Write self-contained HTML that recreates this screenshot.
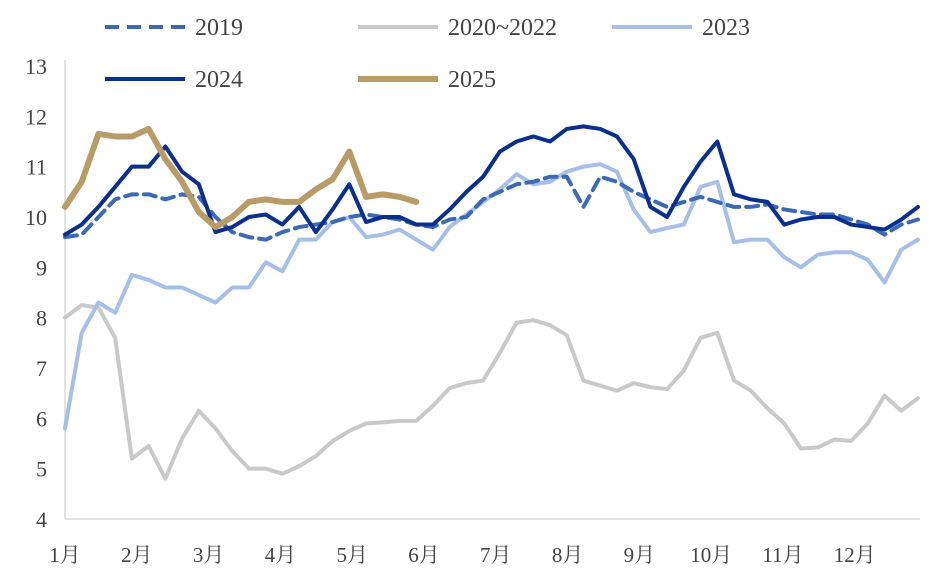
<!DOCTYPE html>
<html><head><meta charset="utf-8"><style>
body{margin:0;background:#fff;}
svg text{font-family:"Liberation Serif","Noto Serif CJK SC",serif;fill:#444;}
</style></head><body>
<svg id="chart" width="939" height="582" xmlns="http://www.w3.org/2000/svg">
<g id="legend"></g>
<g id="axes"></g>
<g id="series"></g>
</svg>
<script>
const months = ["1月","2月","3月","4月","5月","6月","7月","8月","9月","10月","11月","12月"];
const yTicks = [4,5,6,7,8,9,10,11,12,13];
const s2019 = [9.6,9.65,10.0,10.35,10.45,10.45,10.35,10.45,10.4,10.0,9.7,9.6,9.55,9.7,9.8,9.85,9.9,10.0,10.05,10.0,9.95,9.85,9.8,9.95,10.0,10.35,10.5,10.65,10.7,10.8,10.8,10.2,10.8,10.7,10.5,10.35,10.2,10.3,10.4,10.3,10.2,10.2,10.25,10.15,10.1,10.05,10.05,9.95,9.85,9.65,9.85,9.95];
const s2020 = [8.0,8.25,8.2,7.6,5.2,5.45,4.8,5.6,6.15,5.8,5.35,5.0,5.0,4.9,5.05,5.25,5.55,5.75,5.9,5.92,5.95,5.95,6.25,6.6,6.7,6.75,7.3,7.9,7.95,7.85,7.65,6.75,6.65,6.55,6.7,6.62,6.58,6.95,7.6,7.7,6.75,6.55,6.2,5.9,5.4,5.42,5.58,5.55,5.9,6.45,6.15,6.4];
const s2023 = [5.8,7.7,8.3,8.1,8.85,8.75,8.6,8.6,8.45,8.3,8.6,8.6,9.1,8.92,9.55,9.55,9.9,10.0,9.6,9.65,9.75,9.55,9.35,9.8,10.05,10.3,10.55,10.85,10.65,10.7,10.9,11.0,11.05,10.9,10.15,9.7,9.78,9.85,10.6,10.7,9.5,9.55,9.55,9.2,9.0,9.25,9.3,9.3,9.15,8.7,9.35,9.55];
const s2024 = [9.65,9.85,10.2,10.6,11.0,11.0,11.4,10.9,10.65,9.7,9.8,10.0,10.05,9.85,10.2,9.7,10.15,10.65,9.9,10.0,10.0,9.85,9.85,10.15,10.5,10.8,11.3,11.5,11.6,11.5,11.75,11.8,11.75,11.6,11.15,10.2,10.0,10.6,11.1,11.5,10.45,10.35,10.3,9.85,9.95,10.0,10.0,9.85,9.8,9.75,9.95,10.2];
const s2025 = [10.2,10.7,11.65,11.6,11.6,11.75,11.15,10.7,10.1,9.8,10.0,10.3,10.35,10.3,10.3,10.55,10.75,11.3,10.4,10.45,10.4,10.3];

const NS="http://www.w3.org/2000/svg";
const X0=65, X1=918, Y0=519, Y1=66;
const xs = i => X0 + i*(X1-X0)/51;
const ys = v => Y0 - (v-4)*(Y0-Y1)/9;
function mk(tag, attrs, parent){const e=document.createElementNS(NS,tag);for(const k in attrs)e.setAttribute(k,attrs[k]);parent.appendChild(e);return e;}
const axes=document.getElementById('axes');
let ax=mk('line',{x1:X0,y1:Y1-6,x2:X0,y2:Y0,stroke:'#d9d9d9','stroke-width':1.5},axes);


let bx=mk('line',{x1:X0,y1:Y0,x2:X1+2,y2:Y0,stroke:'#d9d9d9','stroke-width':1.5},axes);


yTicks.forEach(v=>{
  const t=mk('text',{x:47,y:ys(v)+8,'text-anchor':'end','font-size':22},axes);
  t.textContent=v;
  
  
});
months.forEach((m,i)=>{
  const t=mk('text',{x:X0+i*71.8,y:562,'text-anchor':'middle','font-size':21},axes);
  t.textContent=m;
  
  
});
const series=document.getElementById('series');
const defs=[
 {d:s2020,c:'#c9c9c9',w:4,dash:null,n:'series-2020-2022'},
 {d:s2023,c:'#a6bfe9',w:4,dash:null,n:'series-2023'},
 {d:s2019,c:'#3b69b5',w:4,dash:'12,7',n:'series-2019'},
 {d:s2024,c:'#0b2f8e',w:4,dash:null,n:'series-2024'},
 {d:s2025,c:'#b99b68',w:6,dash:null,n:'series-2025'}];
defs.forEach(s=>{
  const p=mk('polyline',{points:s.d.map((v,i)=>xs(i)+','+ys(v)).join(' '),fill:'none',stroke:s.c,'stroke-width':s.w,'stroke-linejoin':'round','stroke-linecap':'round'},series);
  if(s.dash)p.setAttribute('stroke-dasharray',s.dash);
  
  
});
const legend=document.getElementById('legend');
const leg=[
 {x:105,y:27,c:'#3b69b5',w:4,dash:'14,8',t:'2019'},
 {x:358,y:27,c:'#c9c9c9',w:4,dash:null,t:'2020~2022'},
 {x:612,y:27,c:'#a6bfe9',w:4,dash:null,t:'2023'},
 {x:105,y:79,c:'#0b2f8e',w:4,dash:null,t:'2024'},
 {x:358,y:79,c:'#b99b68',w:6,dash:null,t:'2025'}];
leg.forEach(l=>{
  const g=mk('g',{},legend);
  
  
  const ln=mk('line',{x1:l.x,y1:l.y,x2:l.x+80,y2:l.y,stroke:l.c,'stroke-width':l.w},g);
  if(l.dash)ln.setAttribute('stroke-dasharray',l.dash);
  const t=mk('text',{x:l.x+90,y:l.y+8,'font-size':24},g);
  t.textContent=l.t;
});
</script>
</body></html>
